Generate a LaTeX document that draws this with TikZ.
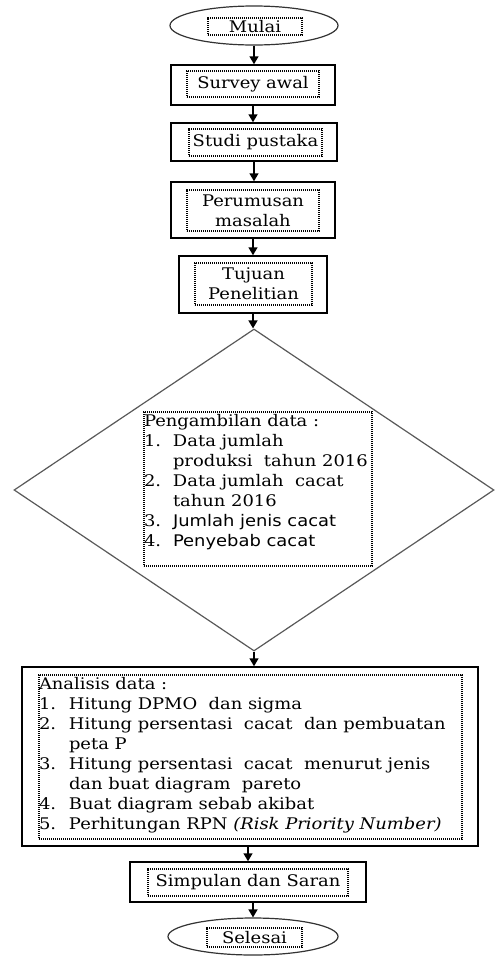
\documentclass[tikz,border=0pt]{standalone}
\usepackage{fontspec}
\setmainfont[FakeStretch=1.12]{DejaVu Serif}
\newfontfamily\itemsans[FakeStretch=1.12]{DejaVu Sans}
\usetikzlibrary{shapes.geometric,arrows.meta}

\begin{document}
\begin{tikzpicture}[x=1pt,y=-1pt]
	\tikzstyle{every node}+=[inner sep=0pt, font=\fontsize{16}{20}\selectfont]
	\tikzstyle{kotak}=[draw, line width=1.5pt, rectangle]
	\tikzstyle{elips}=[draw=black!80, line width=1.2pt, ellipse]
	\tikzstyle{titik}=[draw, line width=1.1pt, dash pattern=on 1.1pt off 0.9pt, rectangle, align=center]
	\tikzstyle{panah}=[line width=1.5pt, -{Triangle[length=8pt,width=9pt]}]
	\useasboundingbox (0,0) rectangle (495,956);
	\node[elips, minimum width=168pt, minimum height=39pt] (mulai) at (254,25.5) {};
	\node[titik, minimum width=94pt, minimum height=17pt] (mulaiT) at (255,26.5) {Mulai};
	\node[kotak, minimum width=164pt, minimum height=40pt] (survey) at (253,85) {};
	\node[titik, minimum width=132pt, minimum height=26pt] (surveyT) at (253,84) {Survey awal};
	\node[kotak, minimum width=166pt, minimum height=38pt] (pustaka) at (254,142) {};
	\node[titik, minimum width=133pt, minimum height=27pt] (pustakaT) at (255.5,142.5) {Studi pustaka};
	\node[kotak, minimum width=164pt, minimum height=56pt] (rumusan) at (253,210) {};
	\node[titik, minimum width=132pt, minimum height=41pt] (rumusanT) at (253,210.5) {Perumusan\\masalah};
	\node[kotak, minimum width=148pt, minimum height=57pt] (tujuan) at (253,284.5) {};
	\node[titik, minimum width=117pt, minimum height=42pt] (tujuanT) at (253.5,284) {Tujuan\\Penelitian};
	\node[diamond, draw=black!65, line width=1.2pt, minimum width=480pt, minimum height=322pt] (ambil) at (254,490) {};
	\node[titik, align=left] (ambilT) at (258,489) {\parbox[c][154pt][t]{228pt}{%
		\begin{tabular}{@{}p{29pt}@{}l@{}}
		\multicolumn{2}{@{}l@{}}{Pengambilan data :}\\
		1. & Data jumlah\\
		 & produksi~ tahun 2016\\
		2. & Data jumlah~ cacat\\
		 & tahun 2016\\
		3. & {\itemsans Jumlah jenis cacat}\\
		4. & {\itemsans Penyebab cacat}
		\end{tabular}}};
	\node[kotak, minimum width=456pt, minimum height=179pt] (analisis) at (250,756.5) {};
	\node[titik, align=left] (analisisT) at (250.5,757) {\parbox[c][164pt][t]{423pt}{%
		\begin{tabular}{@{}p{30pt}@{}l@{}}
		\multicolumn{2}{@{}l@{}}{Analisis data :}\\
		1. & Hitung DPMO~ dan sigma\\
		2. & Hitung persentasi~ cacat~ dan pembuatan\\
		 & peta P\\
		3. & Hitung persentasi~ cacat~ menurut jenis\\
		 & dan buat diagram~ pareto\\
		4. & Buat diagram sebab akibat\\
		5. & Perhitungan RPN \textit{(Risk Priority Number)}
		\end{tabular}}};
	\node[kotak, minimum width=236pt, minimum height=40pt] (simpulan) at (248,882) {};
	\node[titik, minimum width=200pt, minimum height=27pt] (simpulanT) at (248,882.5) {Simpulan dan Saran};
	\node[elips, minimum width=170pt, minimum height=37pt] (selesai) at (253,936.5) {};
	\node[titik, minimum width=95pt, minimum height=19pt] (selesaiT) at (254.5,937.5) {Selesai};
	\draw[panah] (mulai.south) -- (mulai.south |- survey.north);
	\draw[panah] (survey.south) -- (survey.south |- pustaka.north);
	\draw[panah] (pustaka.south) -- (pustaka.south |- rumusan.north);
	\draw[panah] (rumusan.south) -- (rumusan.south |- tujuan.north);
	\draw[panah] (tujuan.south) -- (tujuan.south |- ambil.north);
	\draw[panah] (ambil.south) -- (ambil.south |- analisis.north);
	\draw[panah] (simpulan.north |- analisis.south) -- (simpulan.north);
	\draw[panah] (selesai.north |- simpulan.south) -- (selesai.north);
\end{tikzpicture}
\end{document}
